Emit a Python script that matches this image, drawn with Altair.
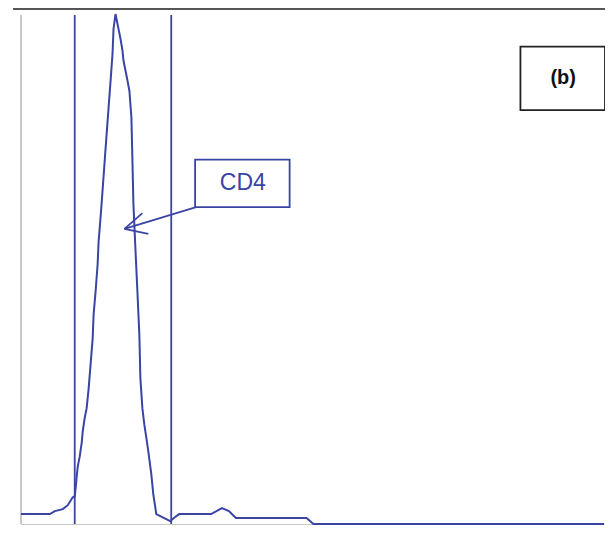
import altair as alt
import pandas as pd

# Histogram trace (channel, count)
channel = [0, 29, 34, 42, 47, 52, 54, 55, 56, 57, 59, 61, 62, 64, 66, 68, 70, 72, 73, 75, 77, 78, 80,
           82, 84, 86, 88, 90, 92, 93, 95, 96, 98, 100, 102, 103, 105, 107, 109, 111, 112, 113, 115,
           117, 119, 120, 122, 124, 126, 128, 131, 133, 136, 142, 150, 155, 159, 191, 202, 209, 216,
           287, 294, 586]
count = [10, 10, 13, 15, 19, 27, 28, 37, 48, 58, 68, 82, 93, 107, 117, 137, 162, 187, 212, 235, 262,
         285, 310, 337, 365, 393, 420, 447, 475, 500, 515, 510, 500, 490, 478, 468, 458, 448, 437, 410,
         367, 323, 278, 235, 190, 147, 117, 100, 87, 73, 50, 30, 10, 7, 3, 7, 10, 10, 16, 13, 6, 6, 0, 0]

gates = [54, 151]
label_b = "(b)"
label_cd4 = "CD4"

DX, DY = 587, 514          # data extent
W, H = 584, 509            # plot size in pixels
BLUE = "#3a44a4"

xs = alt.Scale(domain=[0, DX], nice=False, zero=False)
ys = alt.Scale(domain=[0, DY], nice=False, zero=False)

hist = pd.DataFrame({"channel": channel, "count": count})
gate_df = pd.DataFrame({"g": gates})

line = alt.Chart(hist).mark_line(color=BLUE, strokeWidth=2).encode(
    x=alt.X("channel:Q", scale=xs, axis=None),
    y=alt.Y("count:Q", scale=ys, axis=None),
)

gate_rules = alt.Chart(gate_df).mark_rule(color=BLUE, strokeWidth=1.8).encode(
    x=alt.X("g:Q", scale=xs, axis=None),
    y=alt.value(0),
    y2=alt.value(H),
)

frame_df = pd.DataFrame({"a": [0]})
left_axis = alt.Chart(frame_df).mark_rule(color="#c8c8c8", strokeWidth=2).encode(
    x=alt.value(0), y=alt.value(0), y2=alt.value(H)
)
bottom_axis = alt.Chart(frame_df).mark_rule(color="#c8c8c8", strokeWidth=2).encode(
    x=alt.value(0), x2=alt.value(W), y=alt.value(H + 1)
)
top_line = alt.Chart(frame_df).mark_rule(color="#555555", strokeWidth=2).encode(
    x=alt.value(-8), x2=alt.value(W + 2), y=alt.value(-6)
)

box_df = pd.DataFrame({
    "x1": [502, 175], "x2": [587, 270], "y1": [418, 320], "y2": [482, 368],
    "kind": ["b", "cd4"],
})
boxes = alt.Chart(box_df).mark_rect(fill="white", strokeWidth=1.8).encode(
    x=alt.X("x1:Q", scale=xs, axis=None), x2="x2:Q",
    y=alt.Y("y1:Q", scale=ys, axis=None), y2="y2:Q",
    stroke=alt.Stroke("kind:N", scale=alt.Scale(domain=["b", "cd4"], range=["#222222", BLUE]), legend=None),
)

b_text = alt.Chart(pd.DataFrame({"t": [label_b], "x": [545], "y": [450]})).mark_text(
    font="Liberation Sans", fontSize=20, fontWeight="bold", color="#111111"
).encode(
    x=alt.X("x:Q", scale=xs, axis=None), y=alt.Y("y:Q", scale=ys, axis=None), text="t:N"
)
cd4_text = alt.Chart(pd.DataFrame({"t": [label_cd4], "x": [223], "y": [344]})).mark_text(
    font="Liberation Sans", fontSize=23, color=BLUE
).encode(
    x=alt.X("x:Q", scale=xs, axis=None), y=alt.Y("y:Q", scale=ys, axis=None), text="t:N"
)

arrow_df = pd.DataFrame({
    "x1": [176, 104, 104], "y1": [320, 298, 298],
    "x2": [104, 122, 128], "y2": [298, 314, 293],
})
arrow = alt.Chart(arrow_df).mark_rule(color=BLUE, strokeWidth=1.8).encode(
    x=alt.X("x1:Q", scale=xs, axis=None), x2="x2:Q",
    y=alt.Y("y1:Q", scale=ys, axis=None), y2="y2:Q",
)

chart = alt.layer(
    left_axis, bottom_axis, top_line, gate_rules, line, arrow, boxes, b_text, cd4_text
).properties(
    width=W, height=H,
    padding={"left": 13, "top": 7, "right": 0, "bottom": 1},
    autosize=alt.AutoSizeParams(type="none"),
    background="white",
).configure_view(stroke=None)

chart.save("out.html", embed_options={"renderer": "svg", "actions": False})
